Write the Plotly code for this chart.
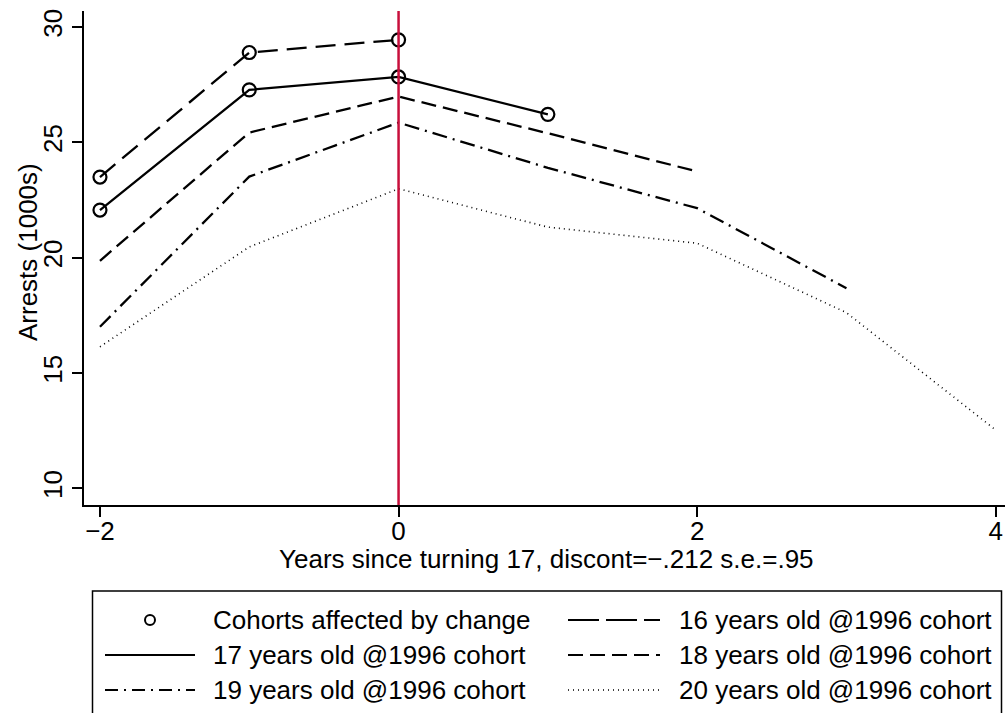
import plotly.graph_objects as go

# ---- data ----
x16 = [-2, -1, 0]
y16 = [23.5, 28.9, 29.45]
x17 = [-2, -1, 0, 1]
y17 = [22.07, 27.28, 27.84, 26.22]
x18 = [-2, -1, 0, 1, 2]
y18 = [19.87, 25.43, 26.99, 25.4, 23.74]
x19 = [-2, -1, 0, 1, 2, 3]
y19 = [17.01, 23.52, 25.86, 23.9, 22.15, 18.68]
x20 = [-2, -1, 0, 1, 2, 3, 4]
y20 = [16.14, 20.47, 22.99, 21.33, 20.63, 17.62, 12.53]

x_ticks = [-2, 0, 2, 4]
x_ticktext = ["\u22122", "0", "2", "4"]
y_ticks = [10, 15, 20, 25, 30]

legend_labels = [
    "Cohorts affected by change", "16 years old @1996 cohort",
    "17 years old @1996 cohort", "18 years old @1996 cohort",
    "19 years old @1996 cohort", "20 years old @1996 cohort",
]
x_title = "Years since turning 17, discont=\u2212.212 s.e.=.95"
y_title = "Arrests (1000s)"

FONT = "Liberation Sans, Arial, Helvetica, sans-serif"
RED = "#C80F3C"

W, H = 1005, 713
ML, MR, MT, MB = 84, 0, 11, 208
PW = W - ML - MR
PH = H - MT - MB


def px(xp):
    return (xp - ML) / PW


def py(yp):
    return (H - MB - yp) / PH


fig = go.Figure()

line_styles = [
    (x16, y16, "20px,9px", 2.3),
    (x17, y17, "solid", 2.3),
    (x18, y18, "15px,7px", 2.3),
    (x19, y19, "15px,6px,2px,6px", 2.3),
    (x20, y20, "1px,4px", 1.6),
]
for xs, ys, dash, w in line_styles:
    fig.add_trace(go.Scatter(x=xs, y=ys, mode="lines",
                             line=dict(color="black", width=w, dash=dash),
                             showlegend=False, hoverinfo="skip"))

# circles for affected cohorts
fig.add_trace(go.Scatter(x=x16 + x17, y=y16 + y17, mode="markers",
                         marker=dict(symbol="circle-open", size=13, color="black",
                                     line=dict(width=2.2, color="black")),
                         showlegend=False, hoverinfo="skip"))

fig.add_vline(x=0, line=dict(color=RED, width=2.5), layer="above")

shapes = []
annotations = []

# legend box
shapes.append(dict(type="rect", xref="paper", yref="paper",
                   x0=px(92.5), x1=px(1001.5), y0=py(591), y1=py(740),
                   line=dict(color="black", width=1.5), fillcolor="rgba(0,0,0,0)"))

rows = [620, 655, 690]
col_sym = [(105, 195), (568, 660)]
col_txt = [211, 677]
leg_dash = [None, "31px,7px", "solid", "15px,7px", "13px,6px,2px,6px", "1px,4px"]
leg_w = [None, 2.2, 2.2, 2.2, 2.2, 1.5]

for i, lab in enumerate(legend_labels):
    r, c = divmod(i, 2)
    yy = py(rows[r])
    if leg_dash[i] is None:
        cx = (col_sym[c][0] + col_sym[c][1]) / 2
        shapes.append(dict(type="circle", xref="paper", yref="paper",
                           xsizemode="pixel", ysizemode="pixel",
                           xanchor=px(cx), yanchor=yy,
                           x0=-5, x1=5, y0=-5, y1=5,
                           line=dict(color="black", width=2)))
    else:
        shapes.append(dict(type="line", xref="paper", yref="paper",
                           x0=px(col_sym[c][0]), x1=px(col_sym[c][1]), y0=yy, y1=yy,
                           line=dict(color="black", width=leg_w[i], dash=leg_dash[i])))
    annotations.append(dict(text=lab, xref="paper", yref="paper", x=px(col_txt[c]), y=yy,
                            xanchor="left", yanchor="middle", showarrow=False,
                            font=dict(family=FONT, size=26, color="black")))

# axis titles
annotations.append(dict(text=x_title, xref="paper", yref="paper", x=px(546), y=py(559),
                        xanchor="center", yanchor="middle", showarrow=False,
                        font=dict(family=FONT, size=26, color="black")))
annotations.append(dict(text=y_title, xref="paper", yref="paper", x=px(28), y=py(252),
                        xanchor="center", yanchor="middle", showarrow=False, textangle=-90,
                        font=dict(family=FONT, size=26, color="black")))

fig.update_layout(
    width=W, height=H,
    margin=dict(l=ML, r=MR, t=MT, b=MB, autoexpand=False),
    paper_bgcolor="white", plot_bgcolor="white",
    font=dict(family=FONT, size=26, color="black"),
    shapes=list(fig.layout.shapes) + shapes,
    annotations=annotations,
    showlegend=False,
)
fig.update_xaxes(range=[-2.107, 4.062], tickvals=x_ticks, ticktext=x_ticktext,
                 ticks="outside", ticklen=10, tickwidth=1.5, tickcolor="black",
                 showline=True, linecolor="black", linewidth=1.5,
                 showgrid=False, zeroline=False, ticklabelstandoff=-8,
                 tickfont=dict(family=FONT, size=26, color="black"))
fig.update_yaxes(range=[9.28, 30.7], tickvals=y_ticks, tickangle=-90,
                 ticks="outside", ticklen=10, tickwidth=1.5, tickcolor="black",
                 showline=True, linecolor="black", linewidth=1.5,
                 showgrid=False, zeroline=False,
                 tickfont=dict(family=FONT, size=26, color="black"))

fig.write_html("out.html", config={"displayModeBar": False},
               post_script="document.body.style.margin='0';document.body.style.padding='0';")
